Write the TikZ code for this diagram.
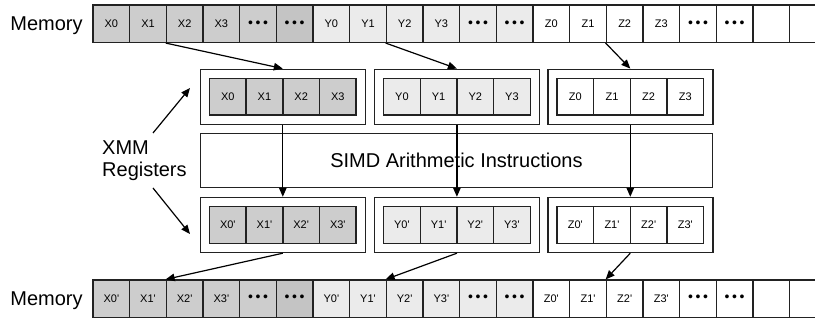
\documentclass[tikz,border=0pt]{standalone}
\usepackage{fontspec}
\setmainfont{Liberation Sans}
\usetikzlibrary{arrows.meta}
\definecolor{xgray}{HTML}{CDCDCD}
\definecolor{xdark}{HTML}{C4C4C4}
\definecolor{ygray}{HTML}{EBEBEB}
\definecolor{edge}{HTML}{222222}
\newcommand{\qprime}{\textquotesingle}
\newcommand{\dotcell}{{\fontsize{14}{14}\selectfont\textbullet\hspace{2.6pt}\textbullet\hspace{2.6pt}\textbullet}}

\begin{document}
\begin{tikzpicture}[x=1pt,y=-1pt,
  cellbox/.style={draw=edge,line width=1.4pt,minimum width=36.67pt,minimum height=37.2pt,
    inner sep=0pt,font=\fontsize{11}{11}\selectfont},
  regcell/.style={cellbox,minimum height=36.7pt},
  outerbox/.style={draw=edge,line width=1.4pt,fill=white,minimum width=165pt,
    minimum height=55pt,inner sep=0pt},
  biglabel/.style={font=\fontsize{20}{22}\selectfont,inner sep=0pt},
  flow/.style={draw=black,line width=1.2pt,-{Triangle[length=9pt,width=7.5pt]}},
]
\useasboundingbox (0,0) rectangle (815,320);

% memory rows (top: inputs, bottom: results)
\begin{scope}
\clip (0,0) rectangle (815,320);
\foreach \row/\yc/\pr in {mt/23.75/{}, mb/298.7/\qprime}{
  \foreach \lbl/\fc [count=\i from 0] in
    {X0\pr/xgray, X1\pr/xgray, X2\pr/xgray, X3\pr/xgray, \dotcell/xgray, \dotcell/xdark,
     Y0\pr/ygray, Y1\pr/ygray, Y2\pr/ygray, Y3\pr/ygray, \dotcell/ygray, \dotcell/ygray,
     Z0\pr/white, Z1\pr/white, Z2\pr/white, Z3\pr/white, \dotcell/white, \dotcell/white,
     {}/white, {}/white}
    \node[cellbox,fill=\fc] (\row\i) at ({93+36.667*(\i+0.5)},\yc) {\lbl};
}
\end{scope}

\node[biglabel] (memtop) at (46.5,25.3) {Memory};
\node[biglabel] (membot) at (46.5,300.5) {Memory};

% arithmetic unit
\node[draw=edge,line width=1.4pt,minimum width=511.8pt,minimum height=54.4pt,inner sep=0pt,
  font=\fontsize{20}{22}\selectfont] (simd) at (456.4,160.5) {SIMD Arithmetic Instructions};

% XMM registers, before and after the operation
\foreach \grp/\cx/\fc in {X/282.8/xgray, Y/456.9/ygray, Z/630.3/white}{
  \node[outerbox] (\grp top) at (\cx,96.8) {};
  \node[outerbox] (\grp bot) at (\cx,225) {};
  \foreach \k in {0,...,3}{
    \node[regcell,fill=\fc] (r\grp t\k) at ({\cx-73.33+36.67*(\k+0.5)},96.7) {\grp\k};
    \node[regcell,fill=\fc] (r\grp b\k) at ({\cx-73.33+36.67*(\k+0.5)},225) {\grp\k\qprime};
  }
}

\node[biglabel,align=left,anchor=west] (xmm) at (102,161) {XMM\\Registers};
\coordinate (upTail) at (153,133);
\coordinate (upHead) at (190,88);
\coordinate (dnTail) at (153,188);
\coordinate (dnHead) at (190,234);
\draw[flow] (upTail) -- (upHead);
\draw[flow] (dnTail) -- (dnHead);

% loads
\draw[flow] (mt2.south west) -- (Xtop.north);
\draw[flow] (mt8.south west) -- (Ytop.north);
\draw[flow] (mt14.south west) -- (Ztop.north);
% operation
\draw[flow] (Xtop.south) -- (Xbot.north);
\draw[flow] (Ytop.south) -- (Ybot.north);
\draw[flow] (Ztop.south) -- (Zbot.north);
% stores
\draw[flow] (Xbot.south) -- (mb2.north west);
\draw[flow] (Ybot.south) -- (mb8.north west);
\draw[flow] (Zbot.south) -- (mb14.north west);
\end{tikzpicture}
\end{document}
